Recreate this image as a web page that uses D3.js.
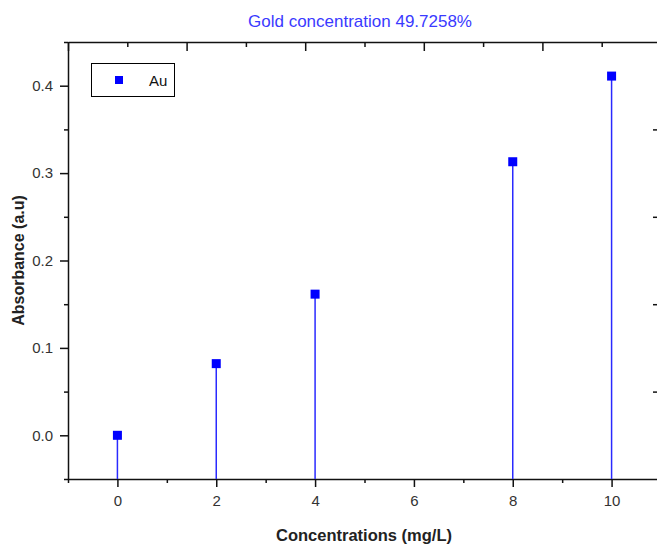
<!DOCTYPE html>
<html>
<head>
<meta charset="utf-8">
<title>Gold concentration</title>
<style>
  body { margin: 0; background: #fff; }
  text { font-family: "Liberation Sans", Arial, sans-serif; }
  .axis path, .axis line { stroke: #111; }
</style>
</head>
<body>
<script src="https://cdn.jsdelivr.net/npm/d3@7"></script>
<script>
// data
const concentrations = [0, 2, 4, 8, 10];
const absorbance = [0.0, 0.082, 0.1615, 0.313, 0.411];
const xTicks = [0, 2, 4, 6, 8, 10];
const xMinor = [-1, 1, 3, 5, 7, 9, 11];
const yTicks = [0.0, 0.1, 0.2, 0.3, 0.4];
const yMinor = [-0.05, 0.05, 0.15, 0.25, 0.35, 0.45];
const seriesName = "Au";
const title = "Gold concentration 49.7258%";

const W = 657, H = 544;
const mLeft = 68, mTop = 42, mRight = 661, mBottom = 479;

const svg = d3.select("body").append("svg")
  .attr("width", W).attr("height", H);

const x = d3.scaleLinear().domain([-1, 11]).range([mLeft, mRight]);
const y = d3.scaleLinear().domain([-0.05, 0.45]).range([mBottom, mTop]);
// top / right axes in Origin are just 0..10 / 0..5 divisions of the frame
const xTop = d3.scaleLinear().domain([0, 10]).range([mLeft, mRight]);
const yRight = d3.scaleLinear().domain([0, 5]).range([mBottom, mTop]);

// minor ticks first
svg.append("g").attr("class", "axis")
  .attr("transform", `translate(0,${mBottom})`)
  .call(d3.axisBottom(x).tickValues(xMinor).tickSize(4).tickFormat(""))
  .call(g => g.select(".domain").remove());
svg.append("g").attr("class", "axis")
  .attr("transform", `translate(${mLeft},0)`)
  .call(d3.axisLeft(y).tickValues(yMinor).tickSize(4).tickFormat(""))
  .call(g => g.select(".domain").remove());

// main axes
svg.append("g").attr("class", "axis")
  .attr("transform", `translate(0,${mBottom})`)
  .call(d3.axisBottom(x).tickValues(xTicks).tickSize(8).tickSizeOuter(0).tickPadding(8).tickFormat(d3.format("d")));
svg.append("g").attr("class", "axis")
  .attr("transform", `translate(${mLeft},0)`)
  .call(d3.axisLeft(y).tickValues(yTicks).tickSize(8).tickSizeOuter(0).tickPadding(7).tickFormat(d3.format(".1f")));

// top axis, ticks pointing in
svg.append("g").attr("class", "axis")
  .attr("transform", `translate(0,${mTop})`)
  .call(d3.axisTop(xTop).tickValues(d3.range(0, 11, 2)).tickSize(-9).tickSizeOuter(0).tickFormat(""));
svg.append("g").attr("class", "axis")
  .attr("transform", `translate(0,${mTop})`)
  .call(d3.axisTop(xTop).tickValues(d3.range(1, 10, 2)).tickSize(-5).tickFormat(""))
  .call(g => g.select(".domain").remove());

// right axis
svg.append("g").attr("class", "axis")
  .attr("transform", `translate(${mRight},0)`)
  .call(d3.axisRight(yRight).tickValues(d3.range(1, 5)).tickSize(-8).tickSizeOuter(0).tickFormat(""));

svg.selectAll(".axis path, .axis line").attr("stroke-width", 1.5);
svg.selectAll(".axis text")
  .attr("font-size", 15)
  .attr("font-family", "Liberation Sans, Arial, sans-serif")
  .attr("fill", "#333");

// stems
svg.append("g").selectAll("line")
  .data(concentrations)
  .enter().append("line")
  .attr("x1", d => x(d)).attr("x2", d => x(d))
  .attr("y1", (d, i) => y(absorbance[i]))
  .attr("y2", mBottom)
  .attr("stroke", "#2a2aff")
  .attr("stroke-width", 1.5);

// markers
const ms = 9;
svg.append("g").selectAll("rect")
  .data(concentrations)
  .enter().append("rect")
  .attr("x", d => x(d) - ms / 2)
  .attr("y", (d, i) => y(absorbance[i]) - ms / 2)
  .attr("width", ms).attr("height", ms)
  .attr("fill", "#0000ff");

// legend
const lg = svg.append("g");
lg.append("rect")
  .attr("x", 91.5).attr("y", 63.5).attr("width", 83).attr("height", 33)
  .attr("fill", "#fff").attr("stroke", "#000").attr("stroke-width", 1);
lg.append("rect")
  .attr("x", 115).attr("y", 76).attr("width", 8).attr("height", 8)
  .attr("fill", "#0000ff");
lg.append("text")
  .attr("x", 149).attr("y", 86)
  .attr("font-size", 15).attr("fill", "#111")
  .text(seriesName);

// title
svg.append("text")
  .attr("x", 360).attr("y", 27)
  .attr("text-anchor", "middle")
  .attr("font-size", 17)
  .attr("fill", "#3a3aff")
  .text(title);

// axis titles
svg.append("text")
  .attr("x", 364).attr("y", 541)
  .attr("text-anchor", "middle")
  .attr("font-size", 16.5).attr("font-weight", "bold").attr("fill", "#222")
  .text("Concentrations (mg/L)");
svg.append("text")
  .attr("transform", `translate(24,${(mTop + mBottom) / 2}) rotate(-90)`)
  .attr("text-anchor", "middle")
  .attr("font-size", 16).attr("font-weight", "bold").attr("fill", "#222")
  .text("Absorbance (a.u)");
</script>
</body>
</html>
